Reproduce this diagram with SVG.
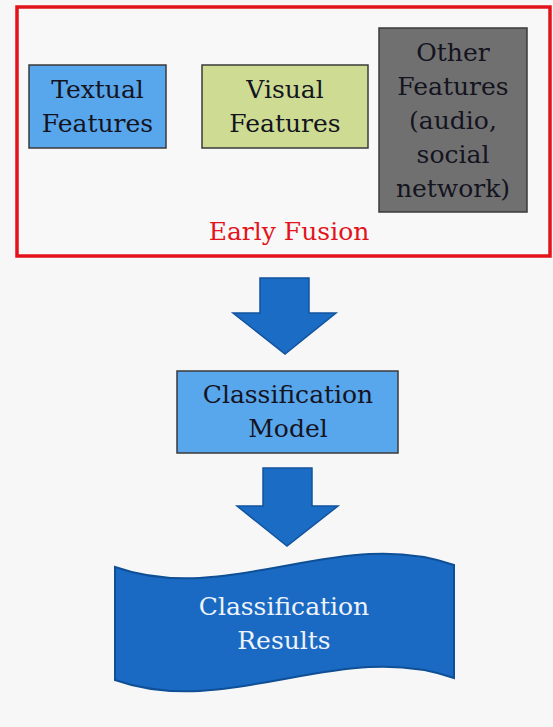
<svg xmlns="http://www.w3.org/2000/svg" width="553" height="727" viewBox="0 0 553 727">
<style>
.t{font-family:"DejaVu Serif","Liberation Serif",serif;font-size:25px;fill:#14141f;text-anchor:middle}
.box{stroke:#3a3a3a;stroke-width:1.5}
.arrow{fill:#1a6cc4;stroke:#13539e;stroke-width:1.5;stroke-linejoin:miter}
</style>
<rect x="0" y="0" width="553" height="727" fill="#f7f7f7"/>
<g id="early-fusion">
<rect x="17" y="7" width="533" height="249" fill="#f8f8f8" stroke="#e3131b" stroke-width="3.5"/>
<text class="t" x="289" y="240" style="fill:#e3131b">Early Fusion</text>
</g>
<g id="textual">
<rect class="box" x="29" y="65" width="137" height="83" fill="#58a6ec"/>
<text class="t" x="97.5" y="98">Textual</text>
<text class="t" x="97.5" y="132">Features</text>
</g>
<g id="visual">
<rect class="box" x="202" y="65" width="166" height="83" fill="#cedc93"/>
<text class="t" x="285" y="98">Visual</text>
<text class="t" x="285" y="132">Features</text>
</g>
<g id="other">
<rect class="box" x="379" y="28" width="148" height="184" fill="#707070"/>
<text class="t" x="453" y="61">Other</text>
<text class="t" x="453" y="95">Features</text>
<text class="t" x="453" y="129">(audio,</text>
<text class="t" x="453" y="163">social</text>
<text class="t" x="453" y="197">network)</text>
</g>
<g id="connectors">
<path class="arrow" d="M260,278 H309 V313 H336 L285,354 L233,313 H260 Z"/>
<path class="arrow" d="M263,468 H312 V506 H338 L287,546 L237,506 H263 Z"/>
</g>
<g id="model">
<rect class="box" x="177" y="371" width="221" height="82" fill="#58a6ec"/>
<text class="t" x="288" y="403">Classification</text>
<text class="t" x="288" y="437">Model</text>
</g>
<g id="results">
<path d="M115,567 C228,607 341,525 454,565 L454,678 C341,638 228,720 115,680 Z" fill="#1a6ac3" stroke="#0f4f96" stroke-width="2"/>
<text class="t" x="284" y="615" style="fill:#eef3fa">Classification</text>
<text class="t" x="284" y="649" style="fill:#eef3fa">Results</text>
</g>
</svg>
